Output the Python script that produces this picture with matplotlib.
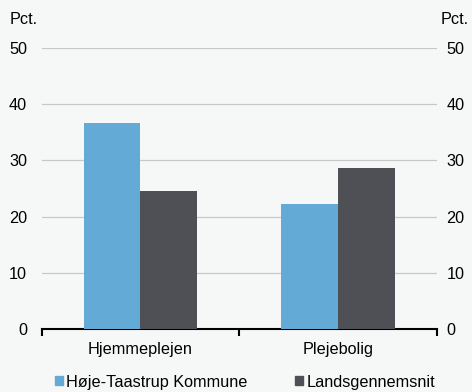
import matplotlib
matplotlib.use("Agg")
import matplotlib.pyplot as plt
import numpy as np
from matplotlib.patches import Rectangle

plt.rcParams["font.family"] = ["Liberation Sans", "DejaVu Sans"]

categories = ["Hjemmeplejen", "Plejebolig"]
series_names = ["Høje-Taastrup Kommune", "Landsgennemsnit"]
hoeje_taastrup = [36.7, 22.2]
landsgennemsnit = [24.5, 28.6]
yticks = [0, 10, 20, 30, 40, 50]

BG = "#f6f8f8"
BLUE = "#63aad6"
DARK = "#4f5055"
FS = 11.7

fig = plt.figure(figsize=(4.72, 3.92), dpi=100, facecolor=BG)
ax = fig.add_axes([0.0883, 0.1607, 0.8370, 0.7169], facecolor=BG)

x = np.arange(len(categories))
width = 0.287
ax.bar(x - width / 2, hoeje_taastrup, width, color=BLUE, zorder=3)
ax.bar(x + width / 2, landsgennemsnit, width, color=DARK, zorder=3)

ax.set_xlim(-0.5, len(categories) - 0.5)
ax.set_ylim(0, 50)
ax.set_yticks(yticks)
ax.yaxis.grid(True, color="#c8c8c8", linewidth=0.9, zorder=0)
ax.tick_params(axis="y", length=0, labelsize=FS, pad=10.5, colors="black")

# right-hand copy of the value axis
ax_r = ax.twinx()
ax_r.set_ylim(ax.get_ylim())
ax_r.set_yticks(yticks)
ax_r.tick_params(axis="y", length=0, labelsize=FS, pad=7, colors="black")

# category labels centred, ticks at the group boundaries
ax.set_xticks(x)
ax.set_xticklabels(categories, fontsize=FS)
ax.tick_params(axis="x", length=0, pad=9)
ax.set_xticks(np.arange(-0.5, len(categories)), minor=True)
ax.tick_params(axis="x", which="minor", length=5, width=1.5, color="black")

for a in (ax, ax_r):
    for side in ("left", "right", "top"):
        a.spines[side].set_visible(False)
ax_r.spines["bottom"].set_visible(False)
ax.spines["bottom"].set_linewidth(1.5)
ax.spines["bottom"].set_color("black")

fig.text(10 / 472, 1 - 20 / 392, "Pct.", fontsize=FS, va="center", ha="left")
fig.text(469 / 472, 1 - 20 / 392, "Pct.", fontsize=FS, va="center", ha="right")

handles = [Rectangle((0, 0), 1, 1, color=BLUE), Rectangle((0, 0), 1, 1, color=DARK)]
fig.legend(handles, series_names, loc="center", bbox_to_anchor=(245 / 472, 1 - 382 / 392),
           ncol=2, frameon=False, fontsize=FS, handlelength=0.5, handleheight=0.5,
           handletextpad=0.2, columnspacing=2.9, borderpad=0, borderaxespad=0)

fig.savefig("out.png", dpi=100, facecolor=BG)
